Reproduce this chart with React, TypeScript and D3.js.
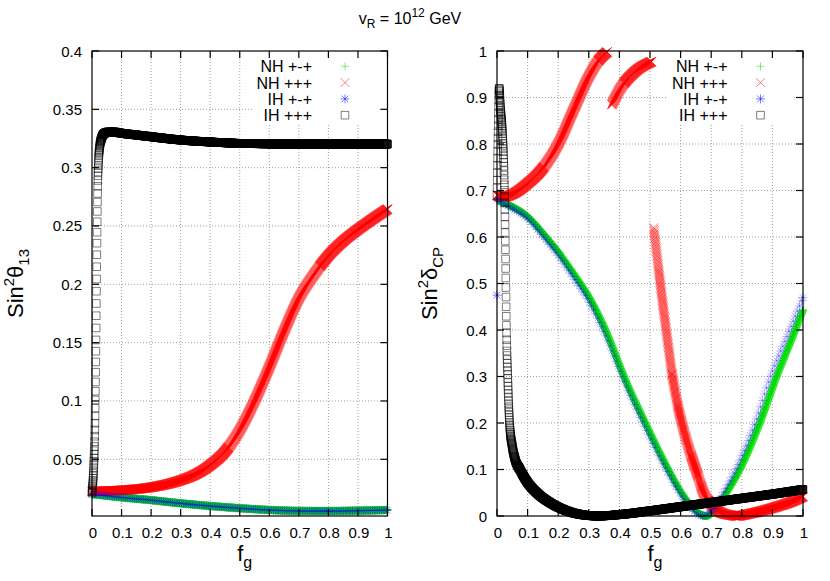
import React, { useEffect, useRef } from "react";
import * as d3 from "d3";

const W = 830;
const H = 581;
const FONT = "'Liberation Sans', Arial, Helvetica, sans-serif";

// ---------- tick values / labels ----------
const xTickValues = [0, 0.1, 0.2, 0.3, 0.4, 0.5, 0.6, 0.7, 0.8, 0.9, 1];
const xTickLabels = ["0", "0.1", "0.2", "0.3", "0.4", "0.5", "0.6", "0.7", "0.8", "0.9", "1"];
const leftYTickValues = [0.05, 0.1, 0.15, 0.2, 0.25, 0.3, 0.35, 0.4];
const leftYTickLabels = ["0.05", "0.1", "0.15", "0.2", "0.25", "0.3", "0.35", "0.4"];
const rightYTickValues = [0, 0.1, 0.2, 0.3, 0.4, 0.5, 0.6, 0.7, 0.8, 0.9, 1];
const rightYTickLabels = ["0", "0.1", "0.2", "0.3", "0.4", "0.5", "0.6", "0.7", "0.8", "0.9", "1"];

const legendNames = ["NH +-+", "NH +++", "IH +-+", "IH +++"];

// ---------- left panel: Sin^2 theta13 ----------
const fL_NHpm = [0, 0.1, 0.2, 0.3, 0.4, 0.5, 0.6, 0.7, 0.8, 0.9, 1.0];
const s13_NHpm = [0.0202, 0.0174, 0.015, 0.0123, 0.01, 0.0081, 0.0066, 0.0058, 0.0057, 0.006, 0.0066];

const fL_NHpp = [0, 0.1, 0.2, 0.3, 0.35, 0.4, 0.45, 0.5, 0.55, 0.6, 0.65, 0.7, 0.75, 0.8, 0.85, 0.9, 0.95, 1.0];
const s13_NHpp = [0.0225, 0.0235, 0.026, 0.032, 0.037, 0.045, 0.0565, 0.075, 0.1, 0.129, 0.16, 0.188, 0.208, 0.2245, 0.237, 0.247, 0.256, 0.2645];

const fL_IHpm = [0, 0.1, 0.2, 0.3, 0.4, 0.5, 0.6, 0.7, 0.8, 0.9, 1.0];
const s13_IHpm = [0.0201, 0.0173, 0.0149, 0.0122, 0.0099, 0.008, 0.0065, 0.0057, 0.0056, 0.0059, 0.0065];

const fL_IHpp = [0, 0.003, 0.006, 0.009, 0.011, 0.013, 0.015, 0.017, 0.019, 0.022, 0.026, 0.032, 0.04, 0.055, 0.075, 0.1, 0.15, 0.2, 0.3, 0.4, 0.5, 0.6, 0.7, 0.8, 0.9, 1.0];
const s13_IHpp = [0.021, 0.03, 0.045, 0.07, 0.1, 0.14, 0.19, 0.24, 0.28, 0.305, 0.318, 0.325, 0.329, 0.3305, 0.3305, 0.3295, 0.328, 0.3265, 0.3237, 0.322, 0.3208, 0.3204, 0.3202, 0.3202, 0.3202, 0.3202];

// ---------- right panel: Sin^2 deltaCP ----------
const fR_NHpm = [0, 0.05, 0.1, 0.15, 0.2, 0.25, 0.3, 0.35, 0.42, 0.485, 0.56, 0.603, 0.64, 0.682, 0.72, 0.751, 0.794, 0.859, 0.914, 0.96, 1.0];
const dcp_NHpm = [0.68, 0.665, 0.644, 0.608, 0.568, 0.522, 0.472, 0.407, 0.2925, 0.2, 0.1, 0.05, 0.018, 0.0, 0.018, 0.05, 0.1, 0.2, 0.3, 0.375, 0.443];

const fR_NHpp_a = [0, 0.02, 0.05, 0.1, 0.15, 0.2, 0.25, 0.3, 0.33, 0.36];
const dcp_NHpp_a = [0.69, 0.686, 0.692, 0.715, 0.748, 0.8, 0.873, 0.945, 0.978, 0.998];
const fR_NHpp_b = [0.375, 0.4, 0.45, 0.505];
const dcp_NHpp_b = [0.884, 0.916, 0.955, 0.977];
const fR_NHpp_c = [0.512, 0.53, 0.55, 0.572];
const dcp_NHpp_c = [0.62, 0.52, 0.415, 0.305];
const fR_NHpp_d = [0.572, 0.59, 0.61, 0.632, 0.655, 0.675, 0.7, 0.73, 0.761, 0.785, 0.82, 0.86, 0.914, 0.96, 1.0];
const dcp_NHpp_d = [0.305, 0.24, 0.185, 0.135, 0.09, 0.05, 0.025, 0.008, 0.002, 0.0, 0.004, 0.01, 0.02, 0.03, 0.042];

const fR_IHpm = [0, 0.05, 0.1, 0.15, 0.2, 0.25, 0.3, 0.35, 0.42, 0.485, 0.56, 0.6, 0.635, 0.675, 0.712, 0.74, 0.78, 0.843, 0.894, 0.95, 1.0];
const dcp_IHpm = [0.68, 0.662, 0.64, 0.602, 0.561, 0.513, 0.462, 0.396, 0.283, 0.19, 0.092, 0.047, 0.016, 0.0, 0.02, 0.05, 0.1, 0.2, 0.3, 0.39, 0.47];
const fR_IHpm_out = [0];
const dcp_IHpm_out = [0.475];

const fR_IHpp = [0, 0.004, 0.007, 0.011, 0.018, 0.022, 0.025, 0.027, 0.029, 0.031, 0.035, 0.041, 0.05, 0.06, 0.075, 0.1, 0.13, 0.17, 0.21, 0.26, 0.33, 0.4, 0.5, 0.6, 0.7, 0.8, 0.9, 1.0];
const dcp_IHpp = [0.69, 0.84, 0.92, 0.88, 0.82, 0.76, 0.68, 0.6, 0.5, 0.4, 0.3, 0.2, 0.15, 0.12, 0.1, 0.072, 0.05, 0.03, 0.016, 0.005, 0.0, 0.003, 0.011, 0.02, 0.029, 0.038, 0.047, 0.057];

// ---------- styles ----------
type Shape = "plus" | "cross" | "star" | "square";
interface SeriesStyle { shape: Shape; color: string; dx: number; groups: number; opacity: number; }
const stGreen: SeriesStyle = { shape: "plus", color: "#00e000", dx: 0.15, groups: 4, opacity: 0.55 };
const stRed: SeriesStyle = { shape: "cross", color: "#ff0000", dx: 0.15, groups: 4, opacity: 0.55 };
const stRedLight: SeriesStyle = { shape: "cross", color: "#ff0000", dx: 0.15, groups: 1, opacity: 0.5 };
const stBlue: SeriesStyle = { shape: "star", color: "#0000ff", dx: 2.0, groups: 1, opacity: 0.3 };
const stBlack: SeriesStyle = { shape: "square", color: "#000000", dx: 0.12, groups: 4, opacity: 0.5 };
const legendStyles = [stGreen, stRed, stBlue, stBlack];

function shapePath(kind: Shape, x: number, y: number): string {
  if (kind === "plus") {
    const r = 4;
    return `M${x - r},${y}h${2 * r}M${x},${y - r}v${2 * r}`;
  }
  if (kind === "cross") {
    const r = 4.5;
    return `M${x - r},${y - r}l${2 * r},${2 * r}M${x - r},${y + r}l${2 * r},${-2 * r}`;
  }
  if (kind === "star") {
    const r = 4.5, q = 3.4;
    return `M${x - r},${y}h${2 * r}M${x},${y - r}v${2 * r}M${x - q},${y - q}l${2 * q},${2 * q}M${x - q},${y + q}l${2 * q},${-2 * q}`;
  }
  const r = 3.8;
  return `M${x - r},${y - r}h${2 * r}v${2 * r}h${-2 * r}z`;
}

interface Series { f: number[]; v: number[]; style: SeriesStyle; }

interface PanelCfg {
  x: d3.ScaleLinear<number, number>;
  y: d3.ScaleLinear<number, number>;
  yTicks: number[];
  yTickLabels: string[];
  yLabelMain: string;
  yLabelGreek: string;
  yLabelSub: string;
  yLabelX: number;
  series: Series[];
}

function drawPanel(svg: d3.Selection<SVGSVGElement, unknown, null, undefined>, cfg: PanelCfg) {
  const { x, y } = cfg;
  const [x0, x1] = x.range();
  const [yB, yT] = y.range();
  const g = svg.append("g");

  // grid
  const grid = g.append("g").attr("stroke", "#a0a0a0").attr("stroke-width", 1).attr("stroke-dasharray", "1,2");
  xTickValues.filter((t) => t > 0 && t < 1).forEach((t) => {
    grid.append("line").attr("x1", x(t)).attr("x2", x(t)).attr("y1", yB).attr("y2", yT);
  });
  cfg.yTicks.filter((t) => y(t) > yT + 1 && y(t) < yB - 1).forEach((t) => {
    grid.append("line").attr("x1", x0).attr("x2", x1).attr("y1", y(t)).attr("y2", y(t));
  });

  // legend background (opaque key)
  g.append("rect").attr("x", x1 - 135.5).attr("y", yT + 1).attr("width", 126).attr("height", 73).attr("fill", "white");

  // data
  const dataG = g.append("g");
  cfg.series.forEach((s) => {
    const line = d3.line<number>()
      .x((_, i) => x(s.f[i]))
      .y((d) => y(d))
      .curve(d3.curveMonotoneX);
    const d = line(s.v) || "";
    const tmp = dataG.append("path").attr("d", d).attr("fill", "none").attr("stroke", "none");
    const node = tmp.node() as SVGPathElement;
    const L = node.getTotalLength();
    const pts: [number, number][] = [];
    let lastX = -1e9;
    for (let sLen = 0; sLen <= L; sLen += 0.25) {
      const p = node.getPointAtLength(sLen);
      if (Math.abs(p.x - lastX) >= s.style.dx) {
        pts.push([p.x, p.y]);
        lastX = p.x;
      }
    }
    const end = node.getPointAtLength(L);
    pts.push([end.x, end.y]);
    tmp.remove();
    for (let k = 0; k < s.style.groups; k++) {
      const dd = pts.filter((_, i) => i % s.style.groups === k).map((p) => shapePath(s.style.shape, p[0], p[1])).join("");
      dataG.append("path").attr("d", dd).attr("fill", "none")
        .attr("stroke", s.style.color).attr("stroke-width", 1).attr("stroke-opacity", s.style.opacity);
    }
  });

  // border
  g.append("rect").attr("x", x0).attr("y", yT).attr("width", x1 - x0).attr("height", yB - yT)
    .attr("fill", "none").attr("stroke", "#000").attr("stroke-width", 1.2);

  // ticks
  const tk = g.append("g").attr("stroke", "#000").attr("stroke-width", 1.2);
  xTickValues.forEach((t) => {
    tk.append("line").attr("x1", x(t)).attr("x2", x(t)).attr("y1", yB).attr("y2", yB - 7);
    tk.append("line").attr("x1", x(t)).attr("x2", x(t)).attr("y1", yT).attr("y2", yT + 7);
  });
  cfg.yTicks.forEach((t) => {
    tk.append("line").attr("x1", x0).attr("x2", x0 + 7).attr("y1", y(t)).attr("y2", y(t));
    tk.append("line").attr("x1", x1).attr("x2", x1 - 7).attr("y1", y(t)).attr("y2", y(t));
  });

  // tick labels
  const lab = g.append("g").attr("font-family", FONT).attr("font-size", 15).attr("fill", "#000");
  xTickValues.forEach((t, i) => {
    lab.append("text").attr("x", x(t) + 1).attr("y", yB + 22).attr("text-anchor", "middle").text(xTickLabels[i]);
  });
  cfg.yTicks.forEach((t, i) => {
    lab.append("text").attr("x", x0 - 10).attr("y", y(t) + 5.5).attr("text-anchor", "end").text(cfg.yTickLabels[i]);
  });

  // x axis label f_g
  const xl = g.append("text").attr("font-family", FONT).attr("font-size", 22)
    .attr("x", (x0 + x1) / 2 + 5).attr("y", 561).attr("text-anchor", "middle");
  xl.append("tspan").text("f");
  xl.append("tspan").attr("font-size", 16).attr("dy", 7).text("g");

  // y axis label
  const yc = (yB + yT) / 2;
  const yl = g.append("text").attr("font-family", FONT).attr("font-size", 22)
    .attr("transform", `translate(${cfg.yLabelX},${yc}) rotate(-90)`).attr("text-anchor", "middle");
  yl.append("tspan").text(cfg.yLabelMain);
  yl.append("tspan").attr("font-size", 15).attr("dy", -9).text("2");
  yl.append("tspan").attr("dy", 9).text(cfg.yLabelGreek);
  yl.append("tspan").attr("font-size", 15).attr("dy", 6).text(cfg.yLabelSub);

  // legend
  const lg = g.append("g");
  legendNames.forEach((name, i) => {
    const by = yT + 21.3 + i * 16.3;
    lg.append("text").attr("font-family", FONT).attr("font-size", 16)
      .attr("x", x1 - 75.5).attr("y", by).attr("text-anchor", "end").text(name);
    const st = legendStyles[i];
    lg.append("path").attr("d", shapePath(st.shape, x1 - 42.5, by - 6)).attr("fill", "none")
      .attr("stroke", st.color).attr("stroke-width", 1).attr("stroke-opacity", 0.5);
  });
}

export default function App() {
  const ref = useRef<SVGSVGElement | null>(null);
  useEffect(() => {
    if (!ref.current) return;
    const svg = d3.select(ref.current);
    svg.selectAll("*").remove();
    svg.append("rect").attr("width", W).attr("height", H).attr("fill", "white");

    // title
    const title = svg.append("text").attr("font-family", FONT).attr("font-size", 16)
      .attr("x", 410).attr("y", 24).attr("text-anchor", "middle");
    title.append("tspan").text("v");
    title.append("tspan").attr("font-size", 12).attr("dy", 4).text("R");
    title.append("tspan").attr("dy", -4).text(" = 10");
    title.append("tspan").attr("font-size", 12).attr("dy", -7).text("12");
    title.append("tspan").attr("dy", 7).text(" GeV");

    const leftX = d3.scaleLinear().domain([0, 1]).range([92, 387.5]);
    const leftY = d3.scaleLinear().domain([0.0014, 0.4]).range([516, 51]);
    const rightX = d3.scaleLinear().domain([0, 1]).range([497, 803]);
    const rightY = d3.scaleLinear().domain([0, 1]).range([516, 51]);

    drawPanel(svg as any, {
      x: leftX, y: leftY,
      yTicks: leftYTickValues, yTickLabels: leftYTickLabels,
      yLabelMain: "Sin", yLabelGreek: "θ", yLabelSub: "13", yLabelX: 23,
      series: [
        { f: fL_NHpm, v: s13_NHpm, style: stGreen },
        { f: fL_NHpp, v: s13_NHpp, style: stRed },
        { f: fL_IHpm, v: s13_IHpm, style: stBlue },
        { f: fL_IHpp, v: s13_IHpp, style: stBlack },
      ],
    });
    drawPanel(svg as any, {
      x: rightX, y: rightY,
      yTicks: rightYTickValues, yTickLabels: rightYTickLabels,
      yLabelMain: "Sin", yLabelGreek: "δ", yLabelSub: "CP", yLabelX: 437,
      series: [
        { f: fR_NHpm, v: dcp_NHpm, style: stGreen },
        { f: fR_NHpp_a, v: dcp_NHpp_a, style: stRed },
        { f: fR_NHpp_b, v: dcp_NHpp_b, style: stRed },
        { f: fR_NHpp_c, v: dcp_NHpp_c, style: stRedLight },
        { f: fR_NHpp_d, v: dcp_NHpp_d, style: stRed },
        { f: fR_IHpm, v: dcp_IHpm, style: stBlue },
        { f: fR_IHpm_out, v: dcp_IHpm_out, style: stBlue },
        { f: fR_IHpp, v: dcp_IHpp, style: stBlack },
      ],
    });
  }, []);
  return (
    <svg ref={ref} width={W} height={H} style={{ position: "absolute", left: 0, top: 0, display: "block" }} />
  );
}
